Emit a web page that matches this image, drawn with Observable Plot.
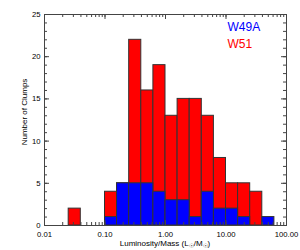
<!DOCTYPE html>
<html><head><meta charset="utf-8">
<script src="https://cdn.jsdelivr.net/npm/d3@7"></script>
<script src="https://cdn.jsdelivr.net/npm/@observablehq/plot@0.6"></script>
<style>body{margin:0;background:#fff} svg{display:block}</style>
</head><body><div id="chart"></div>
<script>
// Histogram bins (log-spaced, 0.2 dex wide)
const binLo = [0.0251, 0.1, 0.158, 0.251, 0.398, 0.631, 1.0, 1.585, 2.512, 3.981, 6.31, 10.0, 15.85, 25.12, 39.81];
const binHi = [0.0398, 0.158, 0.251, 0.398, 0.631, 1.0, 1.585, 2.512, 3.981, 6.31, 10.0, 15.85, 25.12, 39.81, 63.1];
const w51  = [2, 4, 5, 22, 16, 19, 13, 15, 15, 13, 8, 5, 5, 4, 0];
const w49a = [0, 1, 5, 5, 5, 4, 3, 3, 1, 4, 2, 2, 1, 0, 1];
const seriesNames = ["W49A", "W51"];
const seriesColors = ["#0000ff", "#ff0000"];
const xMajor = [0.01, 0.1, 1, 10, 100];
const xMajorLabels = ["0.01", "0.10", "1.00", "10.00", "100.00"];
const yMajor = [0, 5, 10, 15, 20, 25];
const yMinor = d3.range(0, 26);
const xMinor = d3.scaleLog().domain([0.01, 100]).ticks();

const W = 300, H = 250, mL = 44, mR = 14, mT = 14, mB = 25;
const iW = W - mL - mR, iH = H - mT - mB;
const font = "Liberation Sans, Arial, Helvetica, sans-serif";
const ax = "#444";

const rows = (vals) => binLo.map((lo, i) => ({lo, hi: binHi[i], v: vals[i]})).filter(d => d.v > 0);

const chart = Plot.plot({
  width: W, height: H,
  marginLeft: mL, marginRight: mR, marginTop: mT, marginBottom: mB,
  style: {fontFamily: font, background: "#fff", color: "#000"},
  x: {type: "log", domain: [0.01, 100]},
  y: {domain: [0, 25]},
  marks: [
    Plot.rectY(rows(w51), {x1: "lo", x2: "hi", y: "v", fill: seriesColors[1], stroke: "#333", strokeWidth: 1}),
    Plot.rectY(rows(w49a), {x1: "lo", x2: "hi", y: "v", fill: seriesColors[0], stroke: "#333", strokeWidth: 1}),
    // inward ticks
    Plot.tickY(yMajor, {y: d => d, insetRight: iW - 5, stroke: ax}),
    Plot.tickY(yMinor, {y: d => d, insetRight: iW - 3, stroke: ax}),
    Plot.tickY(yMajor, {y: d => d, insetLeft: iW - 5, stroke: ax}),
    Plot.tickY(yMinor, {y: d => d, insetLeft: iW - 3, stroke: ax}),
    Plot.tickX(xMajor, {x: d => d, insetTop: iH - 5, stroke: ax}),
    Plot.tickX(xMinor, {x: d => d, insetTop: iH - 3, stroke: ax}),
    Plot.tickX(xMajor, {x: d => d, insetBottom: iH - 5, stroke: ax}),
    Plot.tickX(xMinor, {x: d => d, insetBottom: iH - 3, stroke: ax}),
    Plot.axisY({ticks: yMajor, tickSize: 0, tickPadding: 4, fontSize: 7.7, label: null}),
    Plot.axisX({ticks: xMajor, tickSize: 0, tickPadding: 6, fontSize: 7.7, label: null,
      tickFormat: d => xMajorLabels[xMajor.indexOf(d)]}),
    Plot.frame({stroke: ax}),
    Plot.text([seriesNames[0]], {frameAnchor: "top-left", dx: 183, dy: 8, text: d => d, fill: seriesColors[0], fontSize: 12, textAnchor: "start", lineAnchor: "top"}),
    Plot.text([seriesNames[1]], {frameAnchor: "top-left", dx: 183, dy: 25, text: d => d, fill: seriesColors[1], fontSize: 12, textAnchor: "start", lineAnchor: "top"})
  ]
});
document.getElementById("chart").appendChild(chart);

const svg = d3.select(chart);
// x-axis title with solar subscripts
const xl = svg.append("text")
  .attr("x", mL + iW / 2).attr("y", 246)
  .attr("text-anchor", "middle")
  .attr("font-family", font).attr("font-size", 8).attr("fill", "#000");
xl.append("tspan").text("Luminosity/Mass (L");
xl.append("tspan").attr("font-size", 5.5).attr("dy", 2).text("☉");
xl.append("tspan").attr("dy", -2).text("/M");
xl.append("tspan").attr("font-size", 5.5).attr("dy", 2).text("☉");
xl.append("tspan").attr("dy", -2).text(")");
// y-axis title
svg.append("text")
  .attr("transform", "translate(27,112) rotate(-90)")
  .attr("text-anchor", "middle")
  .attr("font-family", font).attr("font-size", 8).attr("fill", "#000")
  .text("Number of Clumps");
</script>
</body></html>
